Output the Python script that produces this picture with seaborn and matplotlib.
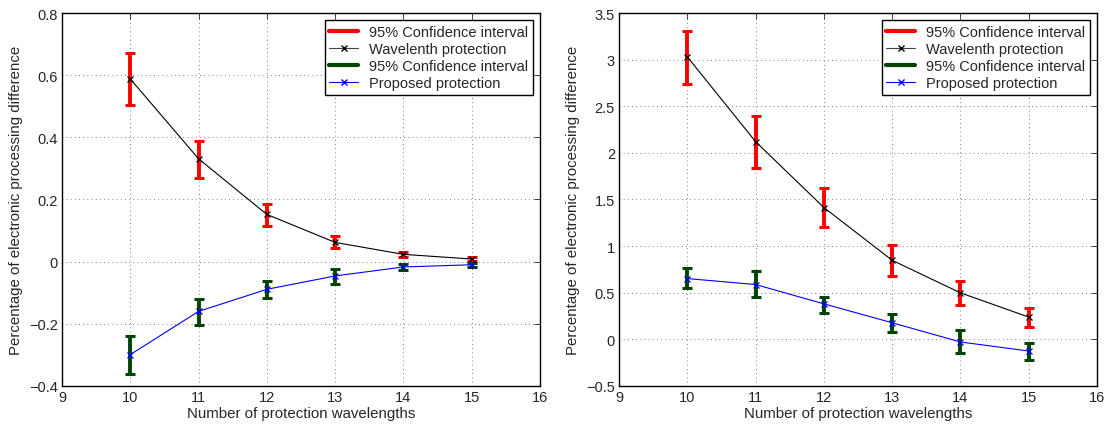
import matplotlib
matplotlib.use("Agg")
import matplotlib.pyplot as plt
import seaborn as sns
import pandas as pd
import numpy as np
from matplotlib.lines import Line2D

# ---------------- data ----------------
wavelengths = [10, 11, 12, 13, 14, 15]

# left panel
left_wl_mean = [0.588, 0.331, 0.152, 0.062, 0.0235, 0.0085]
left_wl_low = [0.503, 0.269, 0.116, 0.043, 0.014, 0.002]
left_wl_high = [0.671, 0.387, 0.186, 0.081, 0.032, 0.015]
left_pp_mean = [-0.299, -0.160, -0.089, -0.046, -0.017, -0.010]
left_pp_low = [-0.360, -0.205, -0.118, -0.072, -0.026, -0.016]
left_pp_high = [-0.240, -0.120, -0.061, -0.025, -0.009, -0.004]

# right panel
right_wl_mean = [3.03, 2.12, 1.414, 0.848, 0.499, 0.239]
right_wl_low = [2.74, 1.84, 1.20, 0.677, 0.367, 0.132]
right_wl_high = [3.305, 2.40, 1.62, 1.01, 0.63, 0.335]
right_pp_mean = [0.652, 0.588, 0.381, 0.178, -0.028, -0.125]
right_pp_low = [0.552, 0.456, 0.285, 0.078, -0.150, -0.220]
right_pp_high = [0.766, 0.730, 0.456, 0.267, 0.100, -0.036]

labels = ["95% Confidence interval", "Wavelenth protection",
          "95% Confidence interval", "Proposed protection"]
xlabel = "Number of protection wavelengths"
ylabel = "Percentage of electronic processing difference"

# ---------------- style ----------------
sns.set_style("white")
plt.rcParams["font.family"] = ["Liberation Sans", "DejaVu Sans"]
plt.rcParams["axes.unicode_minus"] = True

RED = "#ff0000"
GREEN = "#004400"

fig = plt.figure(figsize=(11.11, 4.27), dpi=100)
ax1 = fig.add_axes([0.0558, 0.0937, 0.4302, 0.8735])
ax2 = fig.add_axes([0.5572, 0.0937, 0.4302, 0.8735])


def draw(ax, wm, wl, wh, pm, pl, ph, ylim, yticks, yticklabels):
    df = pd.DataFrame({"x": wavelengths, "wl": wm, "pp": pm})
    wm_a, pm_a = np.array(wm), np.array(pm)
    ax.errorbar(wavelengths, wm, yerr=[wm_a - np.array(wl), np.array(wh) - wm_a],
                fmt="none", ecolor=RED, elinewidth=2.8, capsize=3.5, capthick=2.2,
                zorder=2)
    ax.errorbar(wavelengths, pm, yerr=[pm_a - np.array(pl), np.array(ph) - pm_a],
                fmt="none", ecolor=GREEN, elinewidth=2.8, capsize=3.5, capthick=2.2,
                zorder=2)
    sns.lineplot(data=df, x="x", y="wl", ax=ax, color="black", lw=0.8,
                 marker="x", markersize=5, markeredgewidth=0.9,
                 markeredgecolor="black", zorder=3)
    sns.lineplot(data=df, x="x", y="pp", ax=ax, color="blue", lw=0.8,
                 marker="x", markersize=5, markeredgewidth=0.9,
                 markeredgecolor="blue", zorder=3)
    ax.set_xlim(9, 16)
    ax.set_ylim(*ylim)
    ax.set_xticks(range(9, 17))
    ax.set_yticks(yticks)
    ax.set_yticklabels(yticklabels)
    ax.set_xlabel(xlabel, fontsize=10.8, labelpad=1)
    ax.set_ylabel(ylabel, fontsize=10.8, labelpad=4)
    ax.grid(True, linestyle=(0, (1, 4)), color="black", lw=0.6, alpha=0.65)
    ax.tick_params(direction="in", top=True, right=True, length=4,
                   width=0.6, labelsize=10.5, pad=3)
    for s in ax.spines.values():
        s.set_visible(True)
        s.set_color("black")
        s.set_linewidth(1.0)
    handles = [
        Line2D([], [], color=RED, lw=3),
        Line2D([], [], color="#444444", lw=0.8, marker="x", markersize=5,
               markeredgecolor="black"),
        Line2D([], [], color=GREEN, lw=3),
        Line2D([], [], color="blue", lw=0.8, marker="x", markersize=5),
    ]
    leg = ax.legend(handles, labels, loc="upper right", fontsize=10.5,
                    frameon=True, fancybox=False, borderpad=0.3,
                    labelspacing=0.22, handlelength=2.0, handletextpad=0.75,
                    borderaxespad=0.5, edgecolor="black", framealpha=1)
    leg.get_frame().set_linewidth(1.0)


draw(ax1, left_wl_mean, left_wl_low, left_wl_high,
     left_pp_mean, left_pp_low, left_pp_high,
     (-0.4, 0.8), [-0.4, -0.2, 0, 0.2, 0.4, 0.6, 0.8],
     ["\u22120.4", "\u22120.2", "0", "0.2", "0.4", "0.6", "0.8"])
draw(ax2, right_wl_mean, right_wl_low, right_wl_high,
     right_pp_mean, right_pp_low, right_pp_high,
     (-0.5, 3.5), [-0.5, 0, 0.5, 1, 1.5, 2, 2.5, 3, 3.5],
     ["\u22120.5", "0", "0.5", "1", "1.5", "2", "2.5", "3", "3.5"])

fig.savefig("out.png", dpi=100)
